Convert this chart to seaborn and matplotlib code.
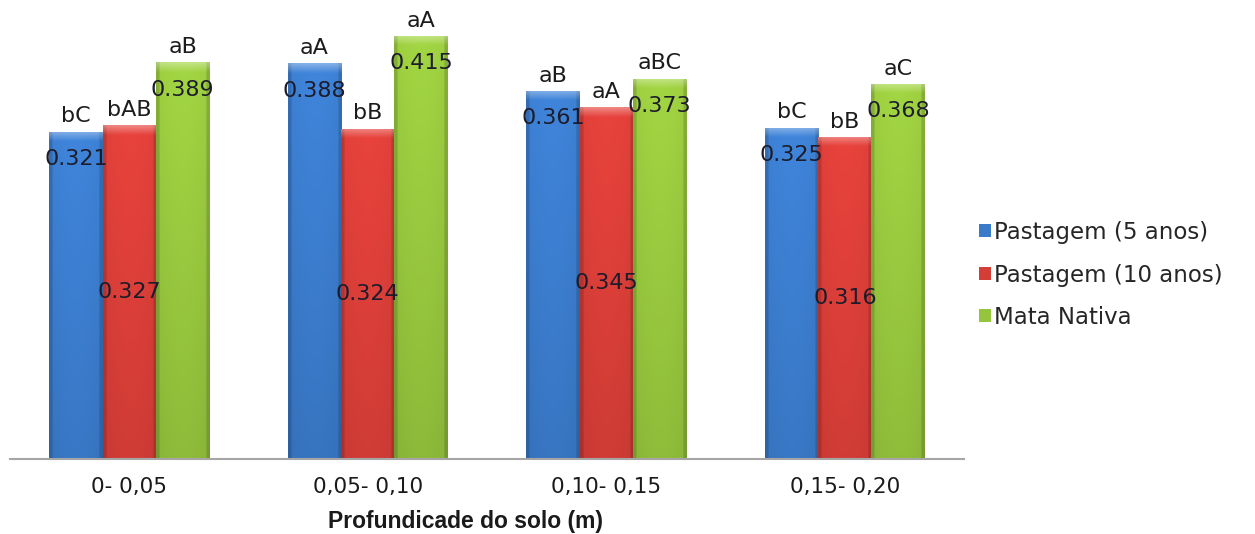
import numpy as np
import pandas as pd
import matplotlib.pyplot as plt
import seaborn as sns
from matplotlib.colors import to_rgb
from matplotlib.patches import Patch

# Dados
profundidade = ["0- 0,05", "0,05- 0,10", "0,10- 0,15", "0,15- 0,20"]
tratamentos = ["Pastagem (5 anos)", "Pastagem (10 anos)", "Mata Nativa"]
pastagem_5 = [0.321, 0.388, 0.361, 0.325]
pastagem_10 = [0.327, 0.324, 0.345, 0.316]
mata_nativa = [0.389, 0.415, 0.373, 0.368]
letras_5 = ["bC", "aA", "aB", "bC"]
letras_10 = ["bAB", "bB", "aA", "bB"]
letras_mata = ["aB", "aA", "aBC", "aC"]
cores = ["#3A7AC9", "#D53D37", "#95C43D"]

valores = [pastagem_5, pastagem_10, mata_nativa]
letras = [letras_5, letras_10, letras_mata]

df = pd.DataFrame({
    "Profundidade": profundidade * 3,
    "Tratamento": [t for t in tratamentos for _ in profundidade],
    "Valor": pastagem_5 + pastagem_10 + mata_nativa,
})

sns.set_style("white")
plt.rcParams["font.family"] = ["DejaVu Sans"]

fig = plt.figure(figsize=(12.55, 5.34), dpi=100)
ax = fig.add_axes([0.008, 0.1404, 0.7602, 0.8596])

sns.barplot(data=df, x="Profundidade", y="Valor", hue="Tratamento",
            palette=cores, width=0.67, gap=0, saturation=1,
            legend=False, ax=ax)


def gradiente(patch, cor):
    x0, y0 = patch.get_x(), patch.get_y()
    w, h = patch.get_width(), patch.get_height()
    ny, nx = 200, 60
    base = np.array(to_rgb(cor))
    t = np.linspace(0, 1, nx)
    d = np.linspace(0, h, ny)[:, None]  # distancia do topo
    fator_v = 1.05 - 0.15 * (d / 0.45)
    borda = np.where(np.abs(t - 0.5) > 0.44, 0.85, 1.0)[None, :]
    borda = borda + 0.04 * np.sin(np.pi * t)[None, :]
    img = base[None, None, :] * (fator_v * borda)[:, :, None]
    brilho = np.clip(1 - d / 0.009, 0, 1)[:, :, None] * 0.35
    img = img * (1 - brilho) + brilho
    img = np.clip(img, 0, 1)
    im = ax.imshow(img, extent=(x0, x0 + w, y0, y0 + h), origin="upper",
                   aspect="auto", zorder=patch.get_zorder() + 0.1,
                   interpolation="bilinear")
    im.set_clip_path(patch)


for i, cont in enumerate(ax.containers):
    for j, barra in enumerate(cont):
        gradiente(barra, cores[i])
        xc = barra.get_x() + barra.get_width() / 2
        h = barra.get_height()
        if i == 1:
            ax.text(xc, h / 2, f"{valores[i][j]:.3f}", ha="center", va="center",
                    fontsize=16, color="#1c1c2a", zorder=5)
        else:
            ax.text(xc, h - 0.027, f"{valores[i][j]:.3f}", ha="center", va="center",
                    fontsize=16, color="#1c1c2a", zorder=5)
        ax.text(xc, h + 0.005, letras[i][j], ha="center", va="bottom",
                fontsize=16, color="#1c1c1c", zorder=5)

ax.set_ylim(0, 0.45)
ax.set_xlim(-0.5, 3.5)
ax.set_yticks([])
ax.set_ylabel("")
for s in ["top", "right", "left"]:
    ax.spines[s].set_visible(False)
ax.spines["bottom"].set_color("#a6a6a6")
ax.spines["bottom"].set_linewidth(1.5)
ax.tick_params(axis="x", length=0, pad=13, labelsize=15.5, labelcolor="#1a1a1a")
ax.set_xlabel("Profundicade do solo (m)", fontsize=16.5, fontweight="bold",
              family="Liberation Sans", color="#1a1a1a")
ax.xaxis.set_label_coords(0.477, -0.137)
ax.xaxis.label.set_va("center")

handles = [Patch(facecolor=c, edgecolor="none") for c in cores]
fig.legend(handles, tratamentos, loc="center left", bbox_to_anchor=(0.773, 0.485),
           frameon=False, fontsize=16.5, handlelength=0.5, handleheight=0.5,
           handletextpad=0.15, labelspacing=0.85, borderaxespad=0)

fig.savefig("out.png", dpi=100, facecolor="white")
